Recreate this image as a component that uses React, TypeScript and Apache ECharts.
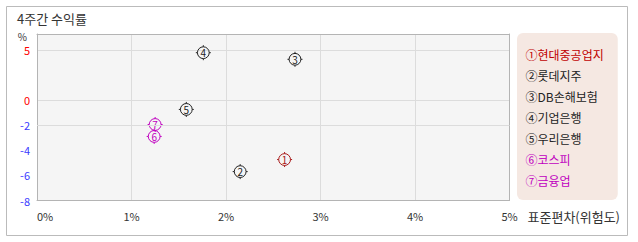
import React, { useEffect, useRef } from "react";
import * as echarts from "echarts";

const marks = ["①", "②", "③", "④", "⑤", "⑥", "⑦"];
const names = ["현대중공업지", "롯데지주", "DB손해보험", "기업은행", "우리은행", "코스피", "금융업"];
const stdDev = [2.62, 2.15, 2.73, 1.76, 1.58, 1.24, 1.25];
const returns = [-4.74, -5.7, 4.07, 4.73, -0.75, -2.9, -1.95];
const pointColors = ["#a81818", "#222222", "#222222", "#222222", "#222222", "#c000c0", "#c000c0"];
const legendColors = ["#c00000", "#222222", "#222222", "#222222", "#222222", "#c000c0", "#c000c0"];
const xRange = [0, 5];
const upperRange = [0, 6.6];
const lowerRange = [-8, 0];
const refLines = [-2];

const FONT = "'Noto Sans CJK KR', 'DejaVu Sans', sans-serif";
const ringPath =
  "path://M1.5,7 A5.5,5.5 0 1,0 12.5,7 A5.5,5.5 0 1,0 1.5,7 Z M7,0 L7,1.5 M7,12.5 L7,14 M0,7 L1.5,7 M12.5,7 L14,7";

export default function App() {
  const ref = useRef<HTMLDivElement>(null);
  useEffect(() => {
    const chart = echarts.init(ref.current!, undefined, { renderer: "svg" });
    const border = "#b4b4b4";
    const gridLine = { show: true, lineStyle: { color: "#dcdcdc", width: 1 } };
    const axisLine = { show: true, onZero: false, lineStyle: { color: border } };
    const series: any[] = names.map((n, i) => {
      const g = returns[i] >= 0 ? 0 : 1;
      return {
        type: "scatter",
        name: marks[i] + n,
        xAxisIndex: g,
        yAxisIndex: g,
        data: [[stdDev[i], returns[i]]],
        symbol: ringPath,
        symbolSize: 15,
        itemStyle: { color: "none", borderColor: pointColors[i], borderWidth: 1, opacity: 1 },
        label: {
          show: true,
          position: "inside",
          formatter: String(i + 1),
          fontSize: 10,
          fontFamily: FONT,
          color: pointColors[i],
        },
        silent: true,
      };
    });
    series.push({
      type: "scatter",
      name: "ref",
      xAxisIndex: 1,
      yAxisIndex: 1,
      data: [],
      markLine: {
        silent: true,
        symbol: "none",
        label: { show: false },
        lineStyle: { color: "#dcdcdc", type: "solid", width: 1 },
        data: refLines.map((v) => ({ yAxis: v })),
      },
    });
    chart.setOption({
      animation: false,
      textStyle: { fontFamily: FONT },
      title: {
        text: "4주간 수익률",
        left: 12,
        top: 7,
        textStyle: { fontSize: 13, fontWeight: "normal", color: "#333", fontFamily: FONT },
      },
      grid: [
        { left: 37, top: 34, width: 472.5, height: 66, backgroundColor: "#f5f5f5", show: true, borderWidth: 0 },
        { left: 37, top: 100, width: 472.5, height: 100.5, backgroundColor: "#f5f5f5", show: true, borderWidth: 0 },
      ],
      xAxis: [
        {
          gridIndex: 0, type: "value", position: "top", min: xRange[0], max: xRange[1], interval: 1,
          axisLine,
          axisTick: { show: false }, axisLabel: { show: false }, splitLine: gridLine,
        },
        {
          gridIndex: 1, type: "value", position: "bottom", min: xRange[0], max: xRange[1], interval: 1,
          axisLine,
          axisTick: { show: false },
          axisLabel: { formatter: "{value}%", fontSize: 11, color: "#333", margin: 10, alignMinLabel: "left" },
          splitLine: gridLine,
          name: "표준편차(위험도)",
          nameLocation: "end",
          nameGap: 18,
          nameTextStyle: { fontSize: 13, color: "#333", verticalAlign: "top", padding: [9, 0, 0, 0] },
        },
      ],
      yAxis: [
        {
          gridIndex: 0, type: "value", min: upperRange[0], max: upperRange[1], interval: 5,
          axisLine,
          axisTick: { show: false },
          axisLabel: { color: "#ff0000", fontSize: 11, margin: 7, showMaxLabel: false },
          splitLine: gridLine,
          name: "%",
          nameLocation: "end",
          nameGap: -7,
          nameTextStyle: { fontSize: 10, color: "#333", align: "right", padding: [0, 10, 0, 0] },
        },
        {
          gridIndex: 1, type: "value", min: lowerRange[0], max: lowerRange[1], interval: 2,
          axisLine,
          axisTick: { show: false },
          axisLabel: { color: "#3a3aff", fontSize: 11, margin: 7, showMaxLabel: false },
          splitLine: { show: false },
        },
        {
          gridIndex: 0, type: "value", position: "right", min: upperRange[0], max: upperRange[1],
          axisLine,
          axisTick: { show: false }, axisLabel: { show: false }, splitLine: { show: false },
        },
        {
          gridIndex: 1, type: "value", position: "right", min: lowerRange[0], max: lowerRange[1],
          axisLine,
          axisTick: { show: false }, axisLabel: { show: false }, splitLine: { show: false },
        },
      ],
      legend: {
        orient: "vertical",
        left: 517,
        top: 33,
        backgroundColor: "#f5e8e2",
        borderRadius: 6,
        padding: [13, 14, 11, 0],
        itemGap: 4,
        itemWidth: 1,
        itemHeight: 12,
        icon: "rect",
        itemStyle: { opacity: 0 },
        selectedMode: false,
        textStyle: { fontSize: 12, fontFamily: FONT },
        data: names.map((n, i) => ({ name: marks[i] + n, textStyle: { color: legendColors[i] } })),
      },
      graphic: [
        {
          type: "rect",
          silent: true,
          z: -10,
          shape: { x: 6.5, y: 6.5, width: 621, height: 229 },
          style: { fill: "#fff", stroke: "#bbbbbb", lineWidth: 1 },
        },
      ],
      series,
    });
    return () => chart.dispose();
  }, []);
  return (
    <div
      ref={ref}
      style={{ position: "fixed", left: 0, top: 0, width: 638, height: 242, background: "#fff" }}
    />
  );
}
